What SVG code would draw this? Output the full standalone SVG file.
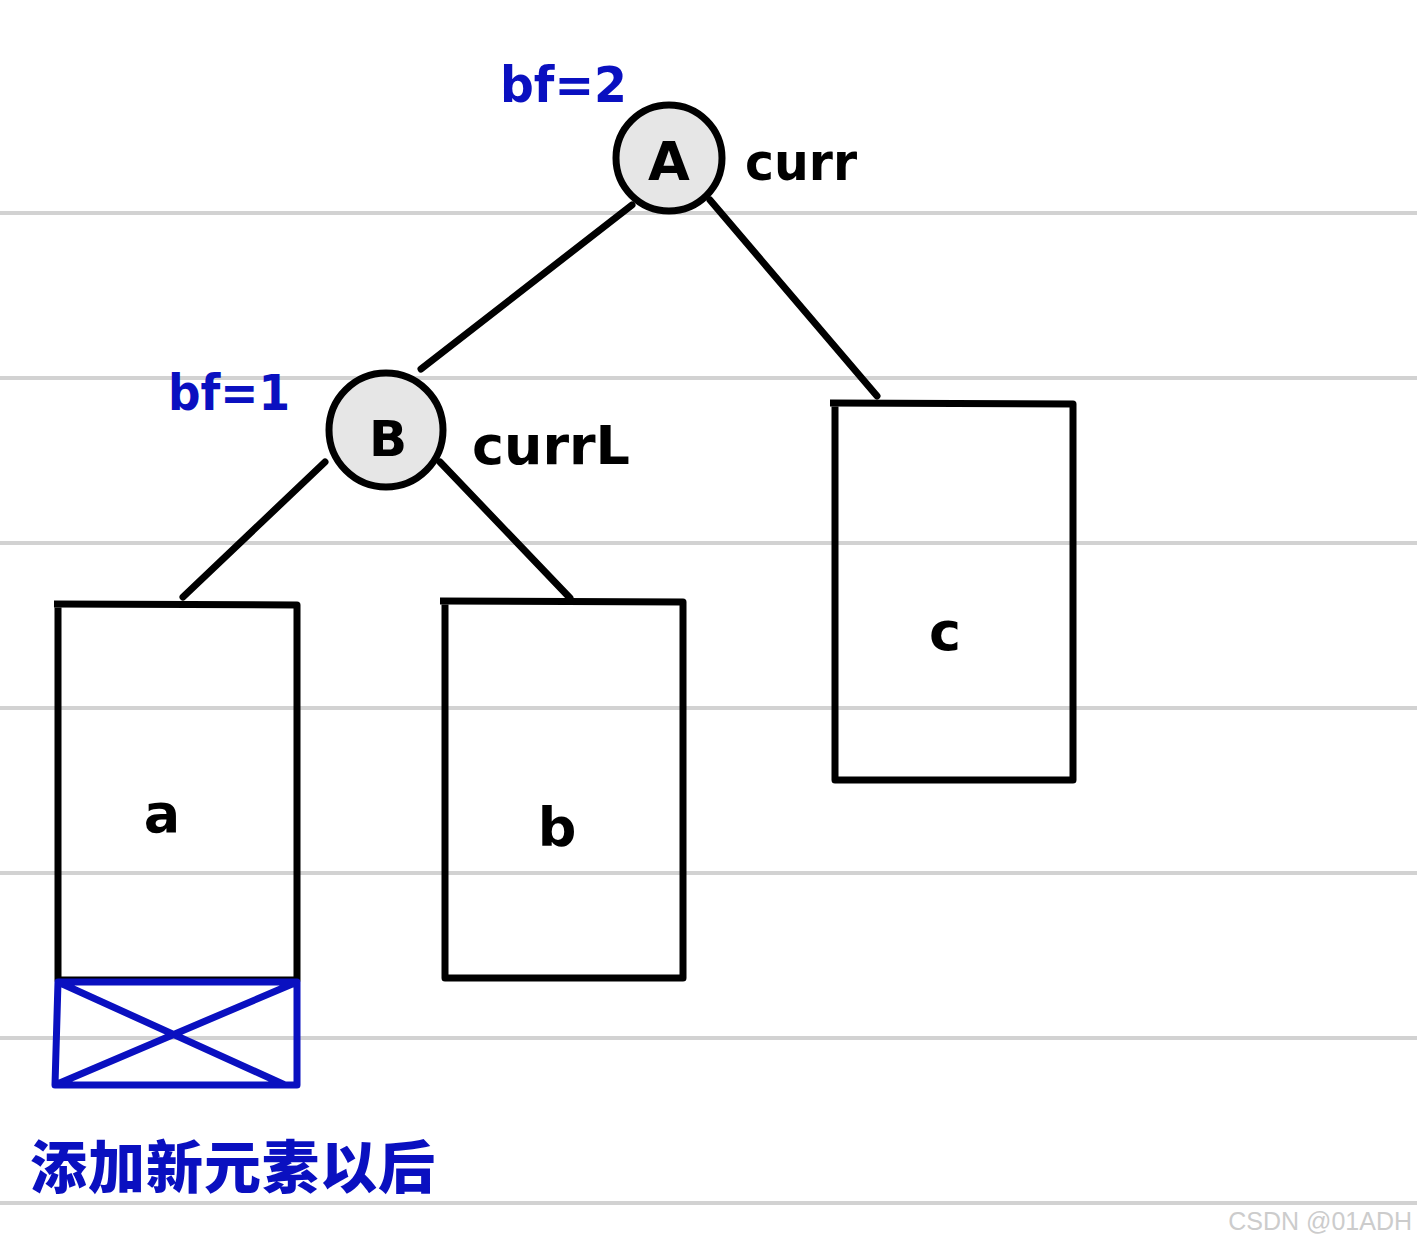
<svg xmlns="http://www.w3.org/2000/svg" width="1417" height="1246" viewBox="0 0 1417 1246">
<style>
.rule{stroke:#d2d2d2;stroke-width:4}
.edge{stroke:#000;stroke-width:7;stroke-linecap:round;fill:none}
.node{fill:#e6e6e6;stroke:#000;stroke-width:7}
.box{fill:none;stroke:#000;stroke-width:7;stroke-linejoin:round}
.blue{fill:none;stroke:#0a10c0;stroke-width:7;stroke-linejoin:round}
.t{font-family:"DejaVu Sans",sans-serif;font-weight:bold;fill:#000}
.tb{font-family:"DejaVu Sans",sans-serif;font-weight:bold;fill:#0a10c0}
.cn{font-family:"Noto Sans CJK SC",sans-serif;font-weight:900;fill:#0a10c0}
</style>
<rect width="1417" height="1246" fill="#fff"/>
<g id="rules">
<line class="rule" x1="0" y1="213" x2="1417" y2="213"/>
<line class="rule" x1="0" y1="378" x2="1417" y2="378"/>
<line class="rule" x1="0" y1="543" x2="1417" y2="543"/>
<line class="rule" x1="0" y1="708" x2="1417" y2="708"/>
<line class="rule" x1="0" y1="873" x2="1417" y2="873"/>
<line class="rule" x1="0" y1="1038" x2="1417" y2="1038"/>
<line class="rule" x1="0" y1="1203" x2="1417" y2="1203"/>
</g>
<g id="connectors">
<line class="edge" x1="632" y1="205" x2="421" y2="369"/>
<line class="edge" x1="710" y1="200" x2="877" y2="396"/>
<line class="edge" x1="325" y1="462" x2="183" y2="597"/>
<line class="edge" x1="440" y1="462" x2="570" y2="598"/>
</g>
<g id="nodeA">
<circle class="node" cx="669" cy="158" r="53"/>
<text class="t" x="669" y="180" font-size="54" text-anchor="middle">A</text>
<text class="t" x="745" y="180" font-size="52" textLength="112" lengthAdjust="spacingAndGlyphs">curr</text>
<text class="tb" x="500" y="102" font-size="50" textLength="127" lengthAdjust="spacingAndGlyphs">bf=2</text>
</g>
<g id="nodeB">
<circle class="node" cx="386" cy="430" r="57"/>
<text class="t" x="388" y="456" font-size="50" text-anchor="middle">B</text>
<text class="t" x="472" y="464" font-size="54" textLength="158" lengthAdjust="spacingAndGlyphs">currL</text>
<text class="tb" x="168" y="410" font-size="50" textLength="122" lengthAdjust="spacingAndGlyphs">bf=1</text>
</g>
<g id="subtree-a">
<path class="box" d="M54 604 L297 605 L297 980 L58 980 L58 604"/>
<text class="t" x="162" y="832" font-size="54" text-anchor="middle">a</text>
</g>
<g id="new-element">
<path class="blue" d="M58 982 L297 982 L297 1085 L55 1085 Z M58 982 L285 1085 M55 1085 L297 982"/>
<text class="cn" x="30" y="1188" font-size="57" letter-spacing="1">添加新元素以后</text>
</g>
<g id="subtree-b">
<path class="box" d="M440 601 L683 602 L683 978 L445 978 L445 601"/>
<text class="t" x="557" y="846" font-size="54" text-anchor="middle">b</text>
</g>
<g id="subtree-c">
<path class="box" d="M830 403 L1073 404 L1073 780 L835 780 L835 403"/>
<text class="t" x="945" y="650" font-size="54" text-anchor="middle">c</text>
</g>
<text x="1412" y="1230" font-family="Liberation Sans,sans-serif" font-size="25" fill="#cccccc" text-anchor="end">CSDN @01ADH</text>
</svg>
